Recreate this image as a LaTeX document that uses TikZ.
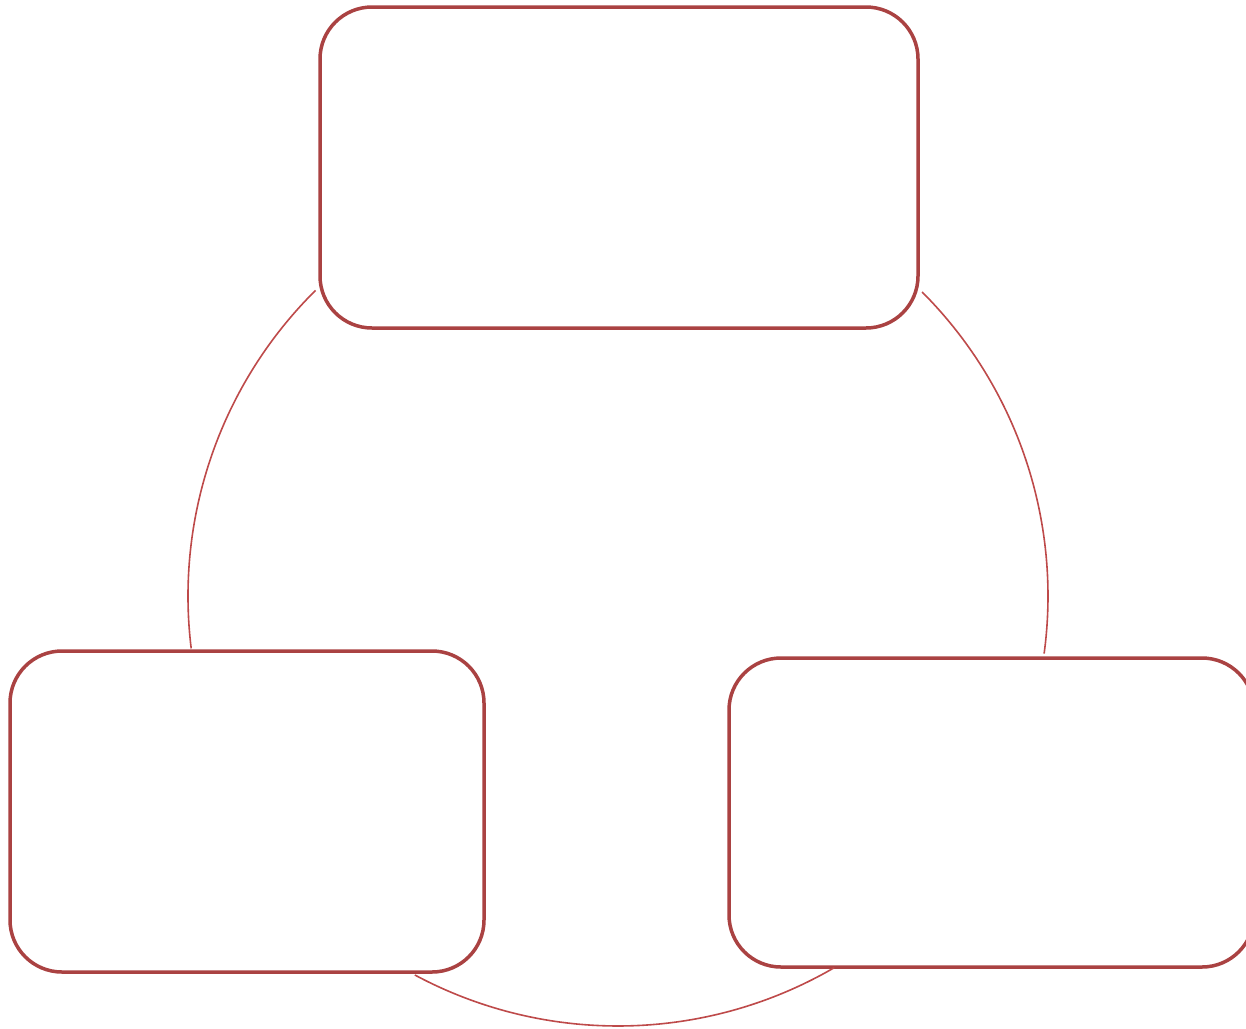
\documentclass[tikz,border=0pt]{standalone}
\usetikzlibrary{calc}
\definecolor{boxred}{RGB}{170,66,66}
\definecolor{arcred}{RGB}{190,74,74}
\begin{document}
\begin{tikzpicture}[x=1pt,y=1pt,
  box/.style={draw=boxred, line width=3.5pt, rounded corners=52pt, inner sep=0pt, outer sep=0pt, fill=white},
  link/.style={draw=arcred, line width=1.6pt}]
\useasboundingbox (0,0) rectangle (1246,-1028);
\fill[white] (0,0) rectangle (1246,-1028);
\begin{scope}
\clip (0,0) rectangle (1246,-1028);
\coordinate (c) at (618,-596);
\node[box, minimum width=598pt, minimum height=321pt] (top) at (619,-167.5) {};
\node[box, minimum width=474pt, minimum height=321pt] (left) at (247,-811.5) {};
\node[box, minimum width=525pt, minimum height=309pt] (right) at (991.5,-812.5) {};
\coordinate (tl) at ($(c)+(134.7:430)$);
\coordinate (tr) at ($(c)+(45:430)$);
\coordinate (bl) at ($(c)+(241.8:430)$);
\draw[link] (tl) arc[start angle=134.7, end angle=187, radius=430];
\draw[link] (tr) arc[start angle=45, end angle=-7.7, radius=430];
\draw[link] (bl) arc[start angle=241.8, end angle=300.2, radius=430];
\end{scope}
\end{tikzpicture}
\end{document}
